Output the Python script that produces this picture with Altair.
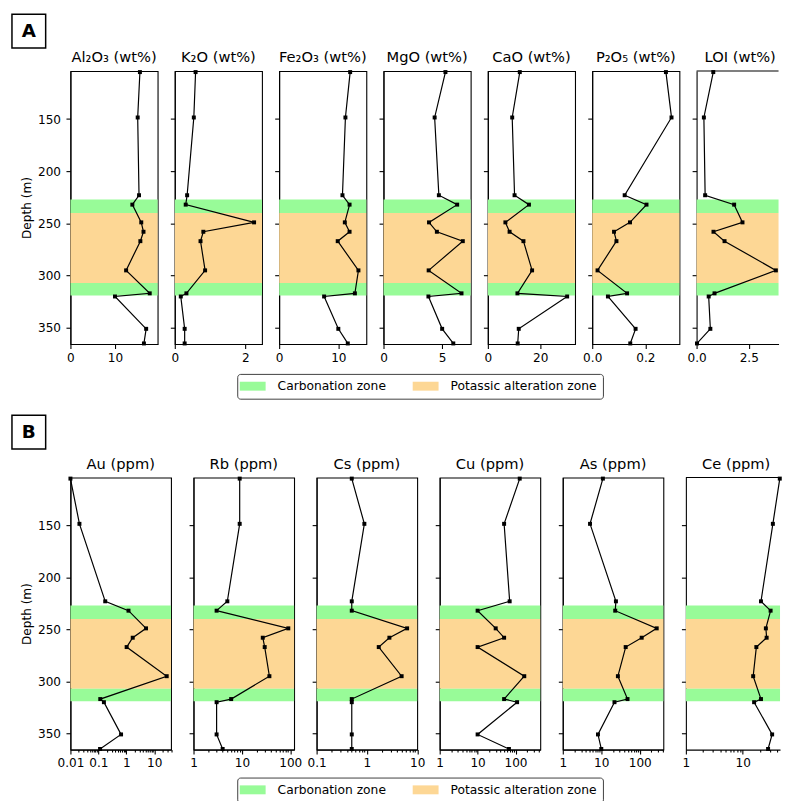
import altair as alt
import pandas as pd

# ---------------- data ----------------
depth = [105, 148.5, 223, 232, 249, 258, 267, 295, 317, 320, 351, 365]
depth_domain = [104, 365.6]
depth_ticks = [150, 200, 250, 300, 350]

zone_names = ["Carbonation zone", "Potassic alteration zone"]
zone_colors = ["#98FB98", "#FDD795"]
zone_kind = ["Carbonation zone", "Potassic alteration zone", "Carbonation zone"]
zone_top = [227, 240, 307]
zone_bottom = [240, 307, 319]

panel_labels = ["A", "B"]

titles_a = ["Al₂O₃ (wt%)", "K₂O (wt%)", "Fe₂O₃ (wt%)", "MgO (wt%)", "CaO (wt%)", "P₂O₅ (wt%)", "LOI (wt%)"]
al2o3 = [15.6, 15.1, 15.4, 13.9, 15.9, 16.4, 15.7, 12.5, 17.8, 10.0, 17.0, 16.5]
k2o = [0.59, 0.54, 0.35, 0.31, 2.25, 0.81, 0.73, 0.86, 0.33, 0.17, 0.28, 0.28]
fe2o3 = [12.0, 11.2, 10.7, 11.9, 11.1, 11.9, 9.9, 13.4, 12.8, 7.6, 10.0, 11.6]
mgo = [5.28, 4.36, 4.72, 6.28, 3.88, 4.55, 6.76, 3.85, 6.65, 3.83, 5.0, 5.95]
cao = [12.2, 9.3, 10.2, 15.7, 6.7, 8.3, 13.6, 16.9, 11.3, 30.3, 11.8, 11.4]
p2o5 = [0.277, 0.298, 0.122, 0.204, 0.142, 0.082, 0.091, 0.020, 0.131, 0.059, 0.163, 0.143]
loi = [0.80, 0.35, 0.41, 1.80, 2.20, 0.81, 1.34, 3.80, 0.86, 0.58, 0.66, 0.02]
ticks_a = [[0, 10], [0, 2], [0, 10], [0, 5], [0, 20], [0, 0.2], [0, 2.5]]
fmts_a = ["d", "d", "d", "d", "d", ".1f", ".1f"]

titles_b = ["Au (ppm)", "Rb (ppm)", "Cs (ppm)", "Cu (ppm)", "As (ppm)", "Ce (ppm)"]
au = [0.01, 0.021, 0.176, 1.2, 5.1, 1.7, 1.03, 28, 0.117, 0.158, 0.65, 0.115]
rb = [9.0, 9.0, 5.0, 3.0, 91, 27, 29.6, 37, 6.0, 3.0, 3.0, 4.0]
cs = [0.5, 0.89, 0.5, 0.5, 6.3, 2.8, 1.72, 4.9, 0.5, 0.5, 0.5, 0.5]
cu = [129, 50, 70, 10, 30, 50, 10, 170, 50, 110, 10, 67]
as_ = [11, 5.1, 24, 23, 275, 112, 43, 27, 48, 22, 8.2, 10]
ce = [45, 34, 21, 31, 25.6, 26.4, 17.4, 15.3, 21, 15.9, 33, 28]
domains_b = [[0.01, 40], [1, 120], [0.1, 10], [1, 450], [1, 410], [1, 59]]
decades = [0.01, 0.1, 1, 10, 100, 1000]

# ---------------- style ----------------
FONT = "DejaVu Sans"
HA, HB = 275.5, 274.5
WA, SPA = 88.0, 17.3
WB, SPB = 101.5, 22.2
CUT_A = 82.7   # visible width of the clipped last panel in row A
CUT_B = 95.0   # visible width of the clipped last panel in row B


def y_enc(field, first):
    return alt.Y(
        field,
        scale=alt.Scale(domain=depth_domain, reverse=True, nice=False, zero=False),
        axis=alt.Axis(values=depth_ticks, title="Depth (m)" if first else None,
                      labels=first, titlePadding=4.3, labelPadding=5.5),
    )


def log_axis(dom):
    lo, hi = dom
    vals = []
    for d in decades:
        for m in range(1, 10):
            v = round(m * d, 6)
            if lo * 0.999 <= v <= hi * 1.001:
                vals.append(v)
    test = "indexof([0.01,0.1,1,10,100,1000], datum.value) >= 0"
    return alt.Axis(values=vals, title=None, labelOverlap=False, labelBound=False, labelFlush=False,
                    labelExpr=test + " ? format(datum.value, '~g') : ''",
                    tickSize={"condition": {"test": test, "value": 4.5}, "value": 2.5},
                    labelPadding=3)


def panel(title, vals, dom, log, axis, width, height, first, cut, dx=0):
    df = pd.DataFrame({"depth": depth, "v": vals})
    zdf = pd.DataFrame({"zone": zone_kind, "top": zone_top, "bottom": zone_bottom})
    xs = alt.Scale(type="log" if log else "linear", domain=dom, nice=False, zero=False)
    xe = alt.X("v:Q", scale=xs, axis=axis)
    zones = alt.Chart(zdf).mark_rect().encode(
        y=y_enc("top:Q", first), y2="bottom:Q",
        color=alt.Color("zone:N", scale=alt.Scale(domain=zone_names, range=zone_colors), legend=None),
    )
    line = alt.Chart(df).mark_line(color="black", strokeWidth=1.2).encode(
        x=xe, y=y_enc("depth:Q", first), order="depth:Q")
    pts = alt.Chart(df).mark_square(color="black", size=16, opacity=1).encode(
        x=xe, y=y_enc("depth:Q", first))
    layers = [zones, line, pts]
    props = dict(width=width, height=height, title=alt.TitleParams(text=title, dx=dx))
    if cut:
        top = alt.Chart(pd.DataFrame({"d": [depth_domain[0]]})).mark_rule(
            color="black", strokeWidth=1.1).encode(y=y_enc("d:Q", first))
        layers.append(top)
        props["view"] = alt.ViewBackground(stroke="transparent")
    return alt.layer(*layers).properties(**props)


def spacer(w):
    return alt.Chart(pd.DataFrame({"t": [0]})).mark_point(opacity=0, size=1).encode(
        x=alt.value(0), y=alt.value(0)).properties(
        width=w, height=1, view=alt.ViewBackground(stroke="transparent"))


def box(label):
    return alt.Chart(pd.DataFrame({"label": [label]})).mark_text(
        font=FONT, fontSize=18.5, fontWeight="bold", color="black",
        baseline="middle", align="center").encode(text="label:N").properties(
        width=34, height=34, view=alt.ViewBackground(stroke="black", strokeWidth=1.5))


def legend_chart():
    return alt.Chart(pd.DataFrame({"zone": zone_names})).mark_rect().encode(
        color=alt.Color("zone:N", scale=alt.Scale(domain=zone_names, range=zone_colors),
                        legend=alt.Legend(
                            title=None, orient="none", legendX=227.3, legendY=0,
                            direction="horizontal",
                            symbolType="M-2.9,-1L2.9,-1L2.9,1L-2.9,1Z", symbolSize=81,
                            symbolStrokeWidth=0, symbolOpacity=1, symbolOffset=3.4,
                            labelFont=FONT, labelFontSize=12.4, labelColor="black",
                            labelOffset=18.9, labelLimit=400, columnPadding=25.5,
                            padding=6, strokeColor="#404040", cornerRadius=3,
                            fillColor="white"))
    ).transform_filter("false").properties(
        width=1, height=1, view=alt.ViewBackground(stroke="transparent"))


x_common = dict(title=None, labelPadding=3, labelOverlap=False, labelFlush=False)

# ---------------- row A ----------------
vals_a = [al2o3, k2o, fe2o3, mgo, cao, p2o5, loi]
panels_a = []
for i, (t, v) in enumerate(zip(titles_a, vals_a)):
    full_max = max(v) * 1.1
    last = i == len(vals_a) - 1
    width = CUT_A if last else WA
    dmax = full_max * CUT_A / WA if last else full_max
    ax = alt.Axis(values=ticks_a[i], format=fmts_a[i], **x_common)
    panels_a.append(panel(t, v, [0, dmax], False, ax, width, HA, i == 0, last,
                          dx=(WA - CUT_A) / 2 if last else 0))

row_a = alt.hconcat(spacer(6), alt.hconcat(*panels_a, spacing=SPA, bounds="flush"), spacing=0)

# ---------------- row B ----------------
vals_b = [au, rb, cs, cu, as_, ce]
panels_b = []
for i, (t, v) in enumerate(zip(titles_b, vals_b)):
    last = i == len(vals_b) - 1
    width = CUT_B if last else WB
    dom = domains_b[i]
    if last:
        dom = [dom[0], dom[0] * (dom[1] / dom[0]) ** (CUT_B / WB)]
    panels_b.append(panel(t, v, dom, True, log_axis(dom), width, HB, i == 0, last,
                          dx=(WB - CUT_B) / 2 if last else 0))

row_b = alt.hconcat(spacer(6), alt.hconcat(*panels_b, spacing=SPB, bounds="flush"), spacing=0)

sec_a = alt.vconcat(
    alt.vconcat(box(panel_labels[0]), row_a, spacing=0.3).resolve_scale(color="independent"),
    legend_chart(), spacing=7.9).resolve_scale(color="independent")
sec_b = alt.vconcat(
    alt.vconcat(box(panel_labels[1]), row_b, spacing=5.9).resolve_scale(color="independent"),
    legend_chart(), spacing=6.6).resolve_scale(color="independent")

chart = alt.vconcat(sec_a, sec_b, spacing=14.6).resolve_scale(color="independent").properties(
    padding={"left": 2, "top": 1.7, "right": 0, "bottom": 0}
).configure_view(stroke="black", strokeWidth=1.1).configure_axis(
    labelFont=FONT, labelFontSize=12.2, labelColor="black",
    titleFont=FONT, titleFontSize=12.2, titleFontWeight="normal", titleColor="black",
    tickColor="black", domainColor="black", domainWidth=1.1, tickWidth=1.1, tickSize=4.5,
    grid=False, zindex=1,
).configure_title(font=FONT, fontSize=14.8, fontWeight="normal", color="black", offset=4.5)

chart.save("out.html", embed_options={"renderer": "svg", "actions": False})
